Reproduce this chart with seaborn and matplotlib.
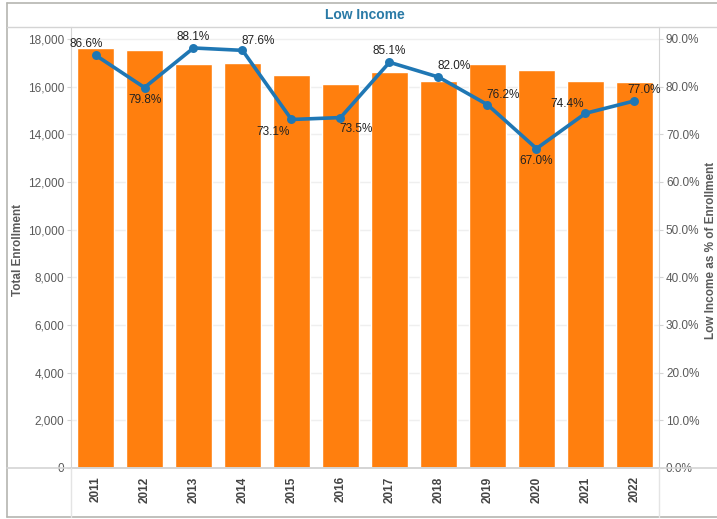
import numpy as np
import pandas as pd
import matplotlib
matplotlib.use('Agg')
import matplotlib.pyplot as plt
import seaborn as sns
from matplotlib.ticker import FuncFormatter, MultipleLocator
from matplotlib.lines import Line2D

# data
years = ['2011', '2012', '2013', '2014', '2015', '2016',
         '2017', '2018', '2019', '2020', '2021', '2022']
enrollment = [17620, 17530, 16950, 16990, 16480, 16100,
              16620, 16240, 16950, 16690, 16240, 16200]
low_income_pct = [86.6, 79.8, 88.1, 87.6, 73.1, 73.5,
                  85.1, 82.0, 76.2, 67.0, 74.4, 77.0]

# label offsets in points (dx, dy) to mimic the reference placement
label_offsets = [(-7, 8), (0, -9), (0, 8), (11, 7), (-13, -9), (11, -8),
                 (0, 8), (11, 8), (11, 7), (0, -9), (-13, 7), (7, 8)]

df = pd.DataFrame({'year': years, 'enrollment': enrollment, 'pct': low_income_pct})

sns.set_style('white')
plt.rcParams['font.family'] = ['Liberation Sans', 'DejaVu Sans']

W, H = 717, 519
fig = plt.figure(figsize=(W / 100, H / 100), dpi=100)

x0, x1 = 71, 659
y_top, y_base = 27, 468
ax = fig.add_axes([x0 / W, 1 - y_base / H, (x1 - x0) / W, (y_base - y_top) / H])

orange = '#ff7f0e'
blue = '#1f77b4'
grey_txt = '#5a5a5a'
line_grey = '#d4d4d4'

sns.barplot(data=df, x='year', y='enrollment', color=orange, width=0.75,
            saturation=1, ax=ax, zorder=2)
ax.set_xlim(-0.5, len(years) - 0.5)
ax.set_ylim(0, 18500)
ax.yaxis.set_major_locator(MultipleLocator(2000))
ax.yaxis.set_major_formatter(FuncFormatter(lambda v, p: f'{int(v):,}'))
ax.grid(axis='y', color='#efefef', linewidth=1, zorder=0)
ax.set_axisbelow(True)
ax.set_xlabel('')
ax.set_ylabel('')
ax.tick_params(axis='y', labelsize=8.5, colors=grey_txt, length=3, width=0.8,
               color=line_grey, pad=2)
ax.tick_params(axis='x', labelsize=8.5, colors='#444444', length=4,
               color=line_grey, width=0.8, pad=6)
ax.set_xticks(np.arange(len(years)))
for lab in ax.get_xticklabels():
    lab.set_rotation(90)
    lab.set_fontweight('bold')
    lab.set_va('top')
# tick marks between categories, not at centres
ax.xaxis.set_minor_locator(matplotlib.ticker.FixedLocator(np.arange(len(years) + 1) - 0.5))
ax.tick_params(axis='x', which='major', length=0)
ax.tick_params(axis='x', which='minor', length=4, color=line_grey, width=0.8)

for s in ['top', 'right']:
    ax.spines[s].set_visible(False)
ax.spines['left'].set_color(line_grey)
ax.spines['bottom'].set_color(line_grey)
ax.spines['bottom'].set_linewidth(1.2)

ax2 = ax.twinx()
sns.pointplot(data=df, x='year', y='pct', color=blue, markers='o',
              markersize=4.5, linewidth=2.6, ax=ax2)
ax2.set_xlim(-0.5, len(years) - 0.5)
ax2.set_ylim(0, 92.5)
ax2.yaxis.set_major_locator(MultipleLocator(10))
ax2.yaxis.set_major_formatter(FuncFormatter(lambda v, p: f'{v:.1f}%'))
ax2.tick_params(axis='y', labelsize=8.5, colors=grey_txt, length=3, width=0.8,
                color=line_grey, pad=2)
ax2.set_ylabel('')
for s in ['top', 'left', 'bottom']:
    ax2.spines[s].set_visible(False)
ax2.spines['right'].set_color(line_grey)

# bottom tick labels sit just above the baseline, as in the reference
fig.canvas.draw()
ax.get_yticklabels()[0].set_va('bottom')
ax2.get_yticklabels()[0].set_va('bottom')

for i, v in enumerate(low_income_pct):
    dx, dy = label_offsets[i]
    ax2.annotate(f'{v:.1f}%', (i, v), xytext=(dx, dy), textcoords='offset points',
                 ha='center', va='center', fontsize=8.5, color='#222222', zorder=5)

# axis titles
fig.text(18 / W, 1 - 250 / H, 'Total Enrollment', rotation=90, ha='center', va='center',
         fontsize=8.5, fontweight='bold', color=grey_txt)
fig.text(711 / W, 1 - 250 / H, 'Low Income as % of Enrollment', rotation=90,
         ha='center', va='center', fontsize=8.5, fontweight='bold', color=grey_txt)

# title
fig.text(365 / W, 1 - 15 / H, 'Low Income', ha='center', va='center',
         fontsize=10, fontweight='bold', color='#2a7aa6')

# frame lines in the Tableau style
def hline(y, xa, xb, color, lw=1.0):
    fig.add_artist(Line2D([xa / W, xb / W], [1 - y / H, 1 - y / H], color=color, lw=lw))

def vline(x, ya, yb, color, lw=1.0):
    fig.add_artist(Line2D([x / W, x / W], [1 - ya / H, 1 - yb / H], color=color, lw=lw))

hline(3, 7, W, '#b5b5b0', 1.2)
hline(517, 7, W, '#b5b5b0', 1.2)
vline(7, 3, 517, '#b5b5b0', 1.2)
hline(27, 7, W, line_grey, 1.0)
hline(468, 7, W, line_grey, 1.2)
vline(x0, 468, 517, '#e4e4e4', 1.0)
vline(x1, 468, 517, '#e4e4e4', 1.0)

fig.savefig('out.png', dpi=100)
